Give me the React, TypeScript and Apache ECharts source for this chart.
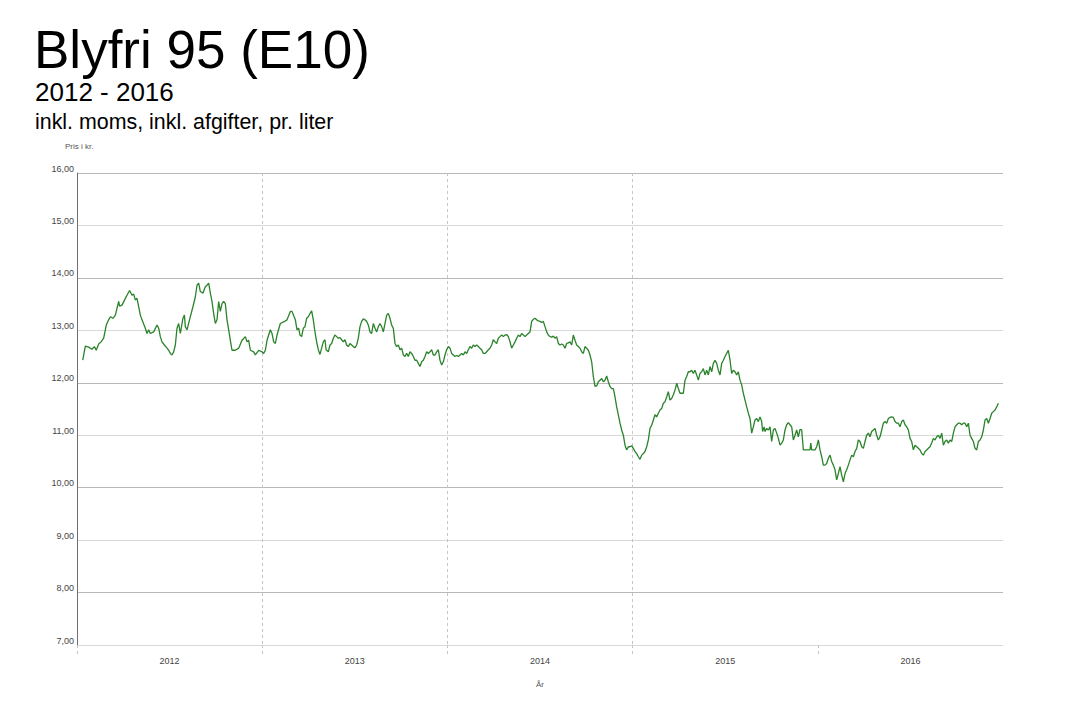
import React, { useEffect, useRef } from "react";
import * as echarts from "echarts";

const START_YEAR = 2012;
const END_YEAR = 2017;
const yearLabels = ["2012", "2013", "2014", "2015", "2016"];
const yearBoundaries = [2012, 2013, 2014, 2015, 2016];
const Y_MIN = 7;
const Y_MAX = 16;

const titleText = "Blyfri 95 (E10)";
const subtitleText = "2012 - 2016";
const noteText = "inkl. moms, inkl. afgifter, pr. liter";
const yAxisTitle = "Pris i kr.";
const xAxisTitle = "År";

// [years after start of 2012, price in kr. per liter]
const observations: [number, number][] = [
  [0.031, 12.43], [0.045, 12.70], [0.063, 12.68], [0.081, 12.64], [0.094, 12.69], [0.104, 12.62],
  [0.117, 12.74], [0.130, 12.78], [0.144, 12.85], [0.158, 13.10], [0.171, 13.20], [0.180, 13.26],
  [0.194, 13.23], [0.207, 13.29], [0.225, 13.55], [0.230, 13.46], [0.243, 13.48], [0.261, 13.61],
  [0.270, 13.67], [0.284, 13.76], [0.297, 13.67], [0.306, 13.69], [0.315, 13.58], [0.324, 13.61],
  [0.333, 13.45], [0.342, 13.29], [0.351, 13.20], [0.369, 13.04], [0.378, 12.94], [0.387, 13.01],
  [0.396, 12.94], [0.414, 12.97], [0.432, 13.10], [0.441, 13.04], [0.450, 12.88], [0.459, 12.78],
  [0.472, 12.72], [0.486, 12.66], [0.495, 12.62], [0.504, 12.56], [0.513, 12.53], [0.522, 12.59],
  [0.531, 12.72], [0.540, 13.04], [0.549, 13.13], [0.558, 12.94], [0.572, 13.23], [0.580, 13.29],
  [0.585, 13.07], [0.594, 13.01], [0.612, 13.26], [0.626, 13.45], [0.639, 13.64], [0.648, 13.86],
  [0.657, 13.90], [0.666, 13.74], [0.680, 13.71], [0.693, 13.83], [0.702, 13.86], [0.711, 13.90],
  [0.720, 13.71], [0.729, 13.55], [0.738, 13.32], [0.747, 13.13], [0.756, 13.20], [0.765, 13.55],
  [0.774, 13.36], [0.783, 13.51], [0.792, 13.55], [0.801, 13.51], [0.810, 13.20], [0.819, 13.01],
  [0.828, 12.81], [0.837, 12.62], [0.855, 12.62], [0.873, 12.66], [0.891, 12.81], [0.909, 12.88],
  [0.918, 12.78], [0.927, 12.81], [0.936, 12.62], [0.954, 12.59], [0.963, 12.53], [0.981, 12.62],
  [0.999, 12.59], [1.008, 12.56], [1.017, 12.62], [1.026, 12.81], [1.044, 13.01], [1.053, 12.94],
  [1.062, 12.78], [1.071, 12.75], [1.080, 12.91], [1.098, 13.13], [1.116, 13.16], [1.134, 13.20],
  [1.152, 13.36], [1.161, 13.36], [1.179, 13.20], [1.188, 13.01], [1.197, 13.04],
  [1.204, 12.91], [1.213, 12.88], [1.222, 13.04], [1.231, 13.07], [1.240, 13.23], [1.249, 13.26],
  [1.258, 13.32], [1.267, 13.37], [1.276, 13.20], [1.285, 12.97], [1.294, 12.78], [1.303, 12.63],
  [1.312, 12.54], [1.321, 12.66], [1.330, 12.78], [1.339, 12.82], [1.345, 12.63], [1.357, 12.59],
  [1.366, 12.72], [1.375, 12.75], [1.384, 12.85], [1.393, 12.91], [1.402, 12.88], [1.411, 12.85],
  [1.420, 12.86], [1.429, 12.82], [1.438, 12.78], [1.447, 12.82], [1.456, 12.72], [1.465, 12.69],
  [1.474, 12.75], [1.483, 12.72], [1.492, 12.69], [1.501, 12.67], [1.510, 12.72], [1.519, 12.85],
  [1.528, 13.07], [1.537, 13.17], [1.546, 13.22], [1.555, 13.20], [1.564, 13.17], [1.573, 13.10],
  [1.582, 12.97], [1.591, 12.94], [1.600, 13.13], [1.609, 13.04], [1.618, 12.97], [1.627, 13.07],
  [1.636, 13.13], [1.645, 13.07], [1.654, 12.97], [1.663, 13.13], [1.672, 13.29], [1.681, 13.32],
  [1.690, 13.23], [1.699, 13.10], [1.708, 13.04], [1.717, 12.75], [1.726, 12.69], [1.735, 12.72],
  [1.744, 12.63], [1.753, 12.66], [1.762, 12.53], [1.771, 12.50], [1.780, 12.56], [1.789, 12.50],
  [1.798, 12.59], [1.807, 12.56], [1.816, 12.50], [1.825, 12.43], [1.834, 12.43], [1.843, 12.37],
  [1.852, 12.31], [1.861, 12.40], [1.870, 12.43], [1.879, 12.50], [1.888, 12.59], [1.897, 12.56],
  [1.906, 12.59], [1.915, 12.63], [1.924, 12.53], [1.933, 12.53], [1.942, 12.59], [1.951, 12.63],
  [1.960, 12.43], [1.969, 12.34], [1.978, 12.40], [1.987, 12.53], [1.996, 12.63], [2.005, 12.69],
  [2.014, 12.66], [2.023, 12.56], [2.032, 12.53], [2.041, 12.50], [2.050, 12.52], [2.059, 12.50],
  [2.068, 12.53], [2.077, 12.56], [2.086, 12.53], [2.095, 12.59], [2.104, 12.56], [2.113, 12.63],
  [2.122, 12.69], [2.131, 12.66], [2.140, 12.72], [2.149, 12.69], [2.158, 12.72], [2.167, 12.69],
  [2.176, 12.66], [2.185, 12.63], [2.194, 12.56], [2.203, 12.56], [2.212, 12.59], [2.221, 12.63],
  [2.230, 12.66], [2.239, 12.72], [2.248, 12.82], [2.257, 12.78], [2.266, 12.75], [2.275, 12.85],
  [2.284, 12.88], [2.293, 12.91], [2.302, 12.88], [2.311, 12.91], [2.320, 12.92], [2.329, 12.88],
  [2.338, 12.78], [2.347, 12.66], [2.356, 12.72], [2.365, 12.78], [2.374, 12.85], [2.383, 12.91],
  [2.392, 12.88], [2.401, 12.94], [2.410, 12.91], [2.419, 12.88], [2.428, 12.91], [2.437, 12.94],
  [2.446, 12.97],
  [2.455, 13.17], [2.464, 13.21], [2.473, 13.23], [2.482, 13.20], [2.491, 13.18], [2.500, 13.17],
  [2.509, 13.15], [2.518, 13.17], [2.527, 13.07], [2.536, 12.97], [2.545, 12.91], [2.554, 12.88],
  [2.563, 12.87], [2.572, 12.89], [2.581, 12.85], [2.590, 12.88], [2.599, 12.75], [2.608, 12.72],
  [2.617, 12.74], [2.626, 12.72], [2.635, 12.66], [2.644, 12.75], [2.653, 12.76], [2.662, 12.78],
  [2.671, 12.72], [2.680, 12.91], [2.689, 12.81], [2.698, 12.72], [2.707, 12.69], [2.716, 12.66],
  [2.725, 12.59], [2.734, 12.56], [2.743, 12.69], [2.752, 12.66], [2.761, 12.62], [2.770, 12.53],
  [2.779, 12.40], [2.788, 12.12], [2.797, 11.93], [2.806, 11.94], [2.815, 12.02], [2.824, 12.05],
  [2.833, 12.08], [2.842, 12.02], [2.851, 12.05], [2.860, 12.13], [2.869, 12.02], [2.878, 11.93],
  [2.887, 11.89], [2.896, 11.89], [2.905, 11.73], [2.914, 11.54], [2.923, 11.39], [2.932, 11.23],
  [2.941, 11.10], [2.950, 11.00], [2.959, 10.81], [2.968, 10.72], [2.977, 10.78], [2.986, 10.78],
  [2.995, 10.80], [3.004, 10.75], [3.013, 10.69], [3.022, 10.65], [3.031, 10.59], [3.040, 10.54],
  [3.049, 10.62], [3.058, 10.65], [3.067, 10.69], [3.076, 10.78], [3.085, 10.91], [3.094, 11.13],
  [3.103, 11.19], [3.112, 11.29], [3.121, 11.39], [3.130, 11.35], [3.139, 11.42], [3.148, 11.48],
  [3.157, 11.51], [3.166, 11.61], [3.175, 11.64], [3.184, 11.73], [3.193, 11.83], [3.202, 11.67],
  [3.211, 11.70], [3.220, 11.77], [3.229, 11.86], [3.238, 11.99], [3.247, 11.89], [3.256, 11.80],
  [3.265, 11.80], [3.274, 11.80], [3.283, 12.05], [3.292, 12.12], [3.301, 12.21], [3.310, 12.21],
  [3.319, 12.24], [3.328, 12.18], [3.337, 12.24], [3.346, 12.15], [3.355, 12.05], [3.364, 12.18],
  [3.373, 12.21], [3.382, 12.27], [3.391, 12.15], [3.400, 12.24], [3.409, 12.15], [3.418, 12.31],
  [3.427, 12.21], [3.436, 12.37], [3.445, 12.43], [3.454, 12.37], [3.463, 12.24], [3.472, 12.15],
  [3.481, 12.37], [3.490, 12.43], [3.499, 12.50], [3.508, 12.56], [3.517, 12.62], [3.526, 12.43],
  [3.535, 12.18], [3.544, 12.24], [3.553, 12.21], [3.562, 12.15], [3.571, 12.21], [3.580, 12.05],
  [3.589, 11.96], [3.598, 11.80], [3.607, 11.67], [3.616, 11.54], [3.625, 11.42], [3.634, 11.32],
  [3.643, 11.04], [3.652, 11.16], [3.661, 11.29], [3.670, 11.32], [3.679, 11.26],
  [3.688, 11.35], [3.697, 11.26], [3.702, 11.07], [3.710, 11.16], [3.715, 11.07], [3.724, 11.13],
  [3.733, 11.10], [3.742, 11.16], [3.751, 10.88], [3.760, 11.10], [3.769, 11.13], [3.778, 11.04],
  [3.787, 10.94], [3.796, 10.81], [3.805, 10.85], [3.814, 10.91], [3.823, 11.10], [3.832, 11.20],
  [3.841, 11.24], [3.850, 11.20], [3.859, 11.16], [3.868, 10.91], [3.877, 11.00], [3.886, 11.10],
  [3.895, 10.97], [3.904, 11.11], [3.913, 11.10], [3.922, 10.72], [3.940, 10.72], [3.958, 10.72],
  [3.962, 10.85], [3.967, 10.72], [3.985, 10.72], [3.994, 10.78], [4.003, 10.91], [4.012, 10.72],
  [4.021, 10.59], [4.030, 10.43], [4.039, 10.43], [4.048, 10.46], [4.057, 10.56], [4.066, 10.62],
  [4.075, 10.50], [4.084, 10.43], [4.093, 10.34], [4.102, 10.15], [4.111, 10.27], [4.120, 10.40],
  [4.129, 10.24], [4.138, 10.11], [4.147, 10.27], [4.156, 10.34], [4.165, 10.43], [4.174, 10.53],
  [4.183, 10.62], [4.192, 10.59], [4.201, 10.69], [4.210, 10.75], [4.219, 10.91], [4.228, 10.88],
  [4.237, 10.78], [4.246, 10.75], [4.255, 10.88], [4.264, 11.00], [4.273, 11.04], [4.282, 10.97],
  [4.291, 11.07], [4.300, 11.10], [4.309, 11.13], [4.318, 11.00], [4.327, 10.91], [4.336, 10.97],
  [4.345, 11.10], [4.354, 11.23], [4.363, 11.26], [4.372, 11.23], [4.381, 11.32], [4.390, 11.34],
  [4.399, 11.35], [4.408, 11.34], [4.417, 11.26], [4.426, 11.23], [4.435, 11.23], [4.444, 11.16],
  [4.453, 11.26], [4.462, 11.29], [4.471, 11.20], [4.480, 11.16], [4.489, 11.10], [4.498, 10.94],
  [4.507, 10.88], [4.516, 10.72], [4.525, 10.81], [4.534, 10.78], [4.543, 10.75], [4.552, 10.72],
  [4.561, 10.65], [4.570, 10.62], [4.579, 10.69], [4.588, 10.72], [4.597, 10.75], [4.606, 10.78],
  [4.615, 10.85], [4.624, 10.94], [4.633, 10.91], [4.642, 10.97], [4.651, 11.00], [4.660, 10.94],
  [4.669, 11.04], [4.678, 10.81], [4.687, 10.88], [4.696, 10.91], [4.705, 10.85], [4.714, 10.91],
  [4.723, 10.88], [4.732, 11.04], [4.741, 11.16], [4.750, 11.20], [4.759, 11.23], [4.768, 11.23],
  [4.777, 11.20], [4.786, 11.23], [4.795, 11.23], [4.804, 11.16], [4.813, 11.23], [4.822, 11.00],
  [4.831, 10.94], [4.840, 10.88], [4.849, 10.75], [4.858, 10.72], [4.867, 10.88], [4.876, 10.91],
  [4.885, 10.97], [4.894, 11.10], [4.903, 11.29], [4.912, 11.32], [4.921, 11.23], [4.930, 11.32],
  [4.939, 11.42], [4.948, 11.45], [4.957, 11.48], [4.966, 11.54], [4.975, 11.61],
];

const seriesData = observations.map(([t, p]) => [START_YEAR + t, p]);

const FONT = "'Liberation Sans', Arial, Helvetica, sans-serif";

export default function App() {
  const ref = useRef<HTMLDivElement>(null);
  useEffect(() => {
    if (!ref.current) return;
    const chart = echarts.init(ref.current, undefined, { renderer: "svg" });
    chart.setOption({
      animation: false,
      backgroundColor: "#ffffff",
      textStyle: { fontFamily: FONT },
      grid: { left: 77, right: 69, top: 173, bottom: 57, containLabel: false },
      xAxis: [
        {
          type: "value",
          min: START_YEAR,
          max: END_YEAR,
          interval: 1,
          position: "bottom",
          axisLine: { show: false },
          axisLabel: { show: false },
          axisTick: {
            show: true,
            length: 10,
            customValues: yearBoundaries,
            lineStyle: { color: "#c4c4c4", type: [3, 3] },
          },
          splitLine: {
            show: true,
            showMinLine: false,
            showMaxLine: false,
            lineStyle: { color: "#c4c4c4", type: [3, 3], width: 1 },
          },
        },
        {
          type: "category",
          data: yearLabels,
          position: "bottom",
          boundaryGap: true,
          axisLine: { show: false },
          axisTick: { show: false },
          splitLine: { show: false },
          axisLabel: { fontSize: 9, color: "#444", margin: 11, fontFamily: FONT },
          name: xAxisTitle,
          nameLocation: "middle",
          nameGap: 35,
          nameTextStyle: { fontSize: 8, color: "#555", fontFamily: FONT },
        },
      ],
      yAxis: {
        type: "value",
        min: Y_MIN,
        max: Y_MAX,
        interval: 1,
        axisLine: { show: true, lineStyle: { color: "#6e6e6e", width: 1 } },
        axisTick: { show: false },
        axisLabel: {
          fontSize: 9,
          color: "#444",
          margin: 3,
          verticalAlign: "bottom",
          fontFamily: FONT,
          formatter: (v: number) => v.toFixed(2).replace(".", ","),
        },
        splitLine: {
          show: true,
          lineStyle: { color: ["#d8d8d8", "#b8b8b8"], width: 1 },
        },
      },
      graphic: [
        {
          type: "text",
          x: 34,
          y: 49,
          style: {
            text: titleText,
            fontSize: 53,
            fontFamily: FONT,
            fill: "#000",
            align: "left",
            verticalAlign: "middle",
          },
        },
        {
          type: "text",
          x: 35,
          y: 92,
          style: {
            text: subtitleText,
            fontSize: 26,
            fontFamily: FONT,
            fill: "#000",
            align: "left",
            verticalAlign: "middle",
          },
        },
        {
          type: "text",
          x: 35,
          y: 122,
          style: {
            text: noteText,
            fontSize: 21.4,
            fontFamily: FONT,
            fill: "#000",
            align: "left",
            verticalAlign: "middle",
          },
        },
        {
          type: "text",
          x: 65,
          y: 146,
          style: {
            text: yAxisTitle,
            fontSize: 8,
            fontFamily: FONT,
            fill: "#555555",
            align: "left",
            verticalAlign: "middle",
          },
        },
      ],
      series: [
        {
          type: "line",
          xAxisIndex: 0,
          yAxisIndex: 0,
          data: seriesData,
          showSymbol: false,
          symbol: "none",
          lineStyle: { color: "#2a832a", width: 1.3 },
          itemStyle: { color: "#2a832a" },
        },
      ],
    });
    return () => chart.dispose();
  }, []);
  return (
    <div
      ref={ref}
      style={{ position: "fixed", left: 0, top: 0, width: 1072, height: 702, background: "#fff" }}
    />
  );
}
